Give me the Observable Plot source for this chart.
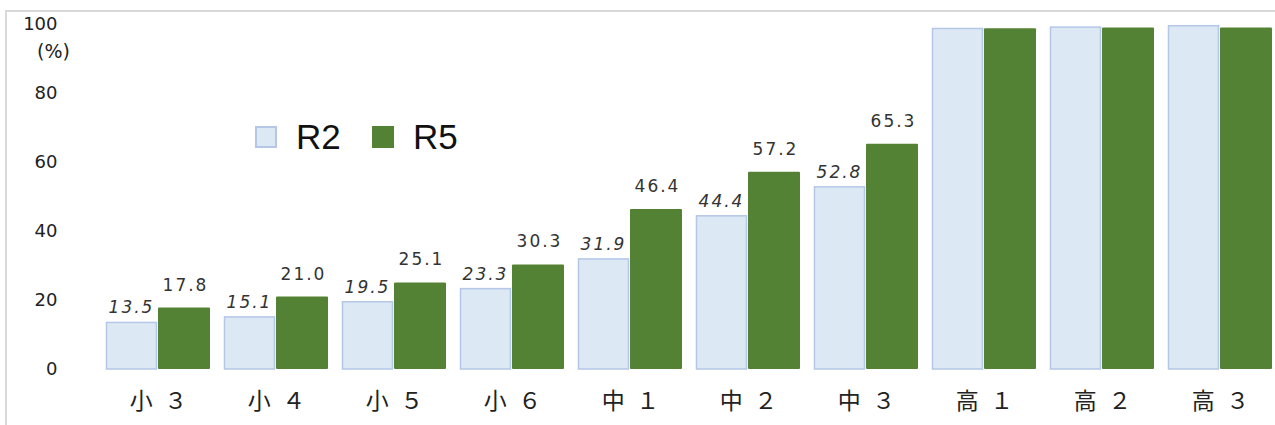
<!DOCTYPE html>
<html><head><meta charset="utf-8">
<script src="https://cdn.jsdelivr.net/npm/d3@7"></script>
<script src="https://cdn.jsdelivr.net/npm/@observablehq/plot@0.6"></script>
<style>
html,body{margin:0;padding:0;background:#fff;overflow:hidden;width:1275px;height:425px;}
#wrap{position:relative;width:1275px;height:425px;}
#frame{position:absolute;left:5px;top:10px;width:1290px;height:430px;border:2px solid #d9d9d9;box-sizing:border-box;}
#chart{position:absolute;left:0;top:0;}
.legend{position:absolute;top:117px;font-family:"Liberation Sans",Arial,sans-serif;font-size:35px;color:#111;display:flex;align-items:center;}
.sw{width:22px;height:22px;display:inline-block;margin-right:19px;box-sizing:border-box;}
#unit{position:absolute;left:37px;top:40px;font-family:"DejaVu Sans",sans-serif;font-size:19px;color:#222;}
</style></head>
<body><div id="wrap"><div id="frame"></div><div id="chart"></div>
<div id="unit">(%)</div>
<div class="legend" style="left:255px"><span class="sw" style="background:#dde8f5;border:2px solid #b4c7e7"></span>R2</div>
<div class="legend" style="left:372px"><span class="sw" style="background:#548235"></span>R5</div>
</div>
<script>
const grades = ["小３","小４","小５","小６","中１","中２","中３","高１","高２","高３"];
const r2 = [13.5, 15.1, 19.5, 23.3, 31.9, 44.4, 52.8, 98.7, 99.1, 99.5];
const r5 = [17.8, 21.0, 25.1, 30.3, 46.4, 57.2, 65.3, 98.8, 99.0, 99.0];
const labeled = [true,true,true,true,true,true,true,false,false,false];
const yTicks = [0,20,40,60,80,100];

const rows = grades.map((g,i)=>({grade:g, r2:r2[i], r5:r5[i], lab:labeled[i]}));
const labRows = rows.filter(d=>d.lab);

const chart = Plot.plot({
  width: 1275, height: 425,
  marginTop: 24, marginBottom: 56, marginLeft: 99, marginRight: 0,
  x: {domain: grades, range: [99, 1279], padding: 0},
  y: {domain: [0,100], range: [369, 24]},
  style: {background: "transparent", overflow: "visible"},
  marks: [
    Plot.ruleY(yTicks, {y: d=>d, x1: 100, x2: 1275, stroke: "#d9d9d9", strokeWidth: 1.5}),
    Plot.barY(rows, {x: "grade", y: "r2", fill: "#dde8f5", stroke: "#b4c7e7", strokeWidth: 1.5, insetLeft: 7.5, insetRight: 60.5}),
    Plot.barY(rows, {x: "grade", y: "r5", fill: "#548235", insetLeft: 59, insetRight: 7, rx: 1}),
    Plot.text(labRows, {x: "grade", y: "r2", text: d=>d.r2.toFixed(1), dx: -27, dy: -15, fontStyle: "italic", fontSize: 17, fill: "#333", fontFamily: "DejaVu Sans"}),
    Plot.text(labRows, {x: "grade", y: "r5", text: d=>d.r5.toFixed(1), dx: 27, dy: -23, fontSize: 17, fill: "#333", fontFamily: "DejaVu Sans"}),
    Plot.axisY({ticks: yTicks, tickSize: 0, tickPadding: 42, fontSize: 18, fill: "#222", fontFamily: "DejaVu Sans", label: null}),
    Plot.axisX({tickSize: 0, tickPadding: 23, fontSize: 23, fill: "#222", fontFamily: "Noto Sans CJK JP", label: null,
      tickFormat: g => g.charAt(0) + "\u2002" + g.charAt(1)})
  ]
});
document.getElementById("chart").appendChild(chart);
chart.querySelectorAll("g[aria-label='text'] text").forEach(t=>t.setAttribute("letter-spacing","2"));
</script>
</body></html>
